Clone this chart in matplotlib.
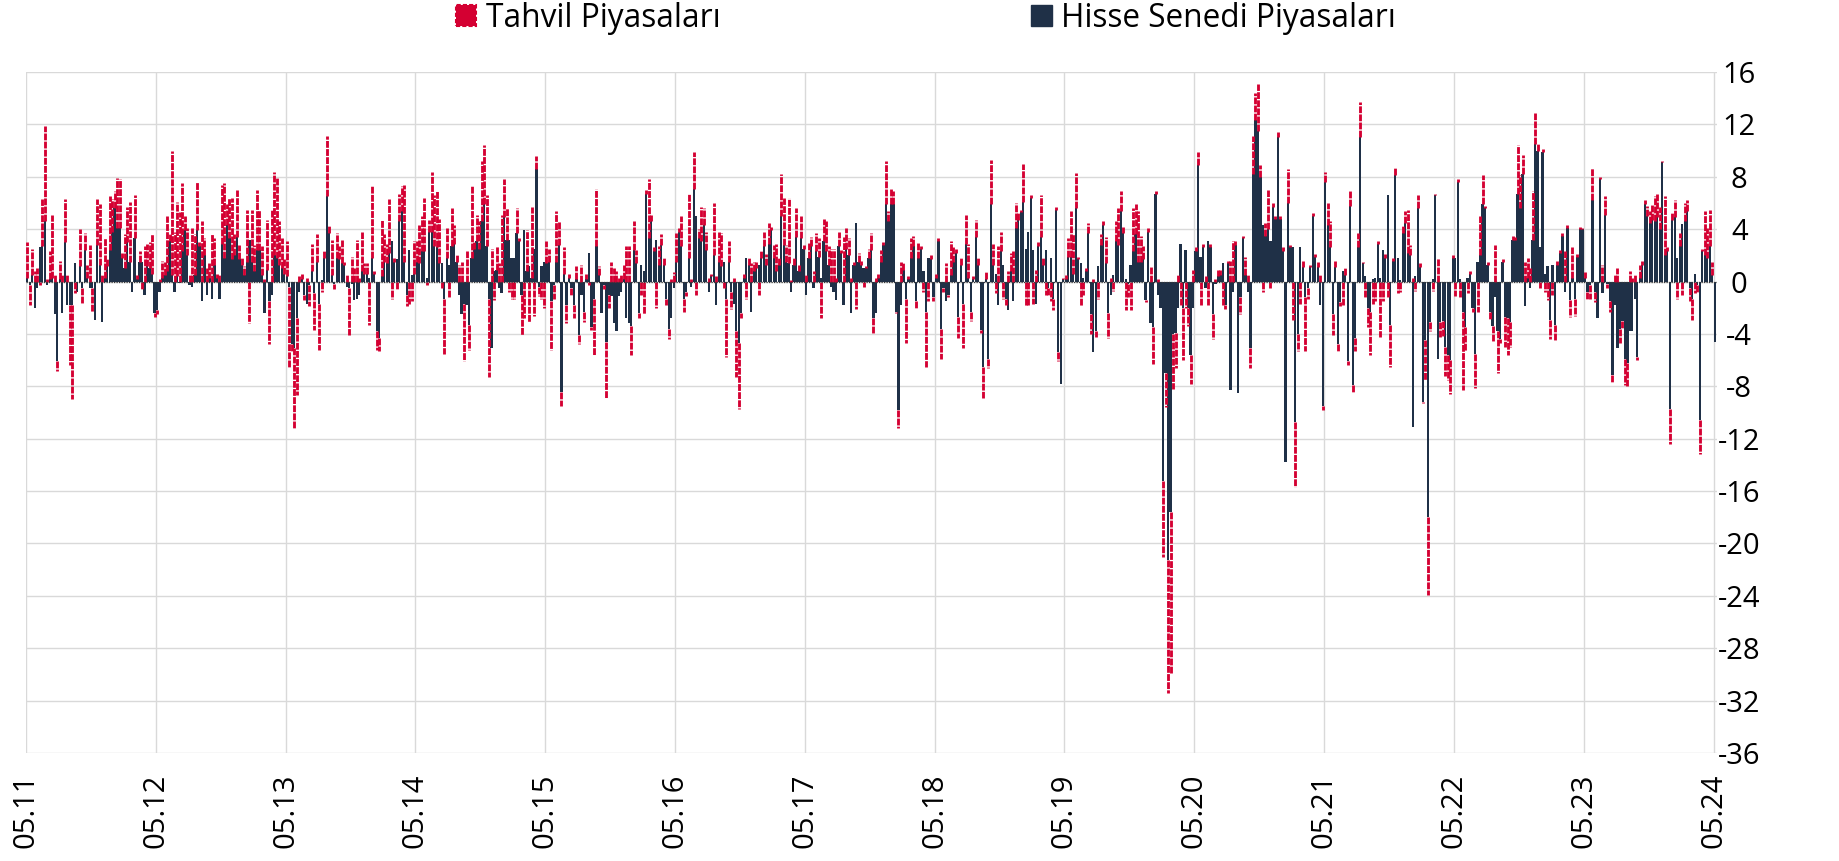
import numpy as np
import matplotlib
matplotlib.use("Agg")
import matplotlib.pyplot as plt
from matplotlib.patches import Patch

# ---------------- data (weekly flows, 05.2011 - 05.2024) ----------------
year_labels = ["05.11", "05.12", "05.13", "05.14", "05.15", "05.16", "05.17",
               "05.18", "05.19", "05.20", "05.21", "05.22", "05.23", "05.24"]

# Hisse Senedi Piyasaları (equity)
equity_flows = [
    # 2011-12
    0.3,-0.3,0.5,-2.0,-0.5,2.6,2.7,4.6,-0.3,0.2,0.3,-2.5,-6.1,0.2,-2.4,3.0,-1.8,-1.8,-1.8,1.4,-0.8,1.2,-0.5,2.4,0.3,
    -0.5,-0.5,-2.9,2.8,1.3,-3.1,0.3,1.2,2.4,3.8,5.6,4.1,4.1,1.8,1.0,3.0,1.5,-0.8,3.3,0.2,1.5,1.5,-1.0,1.2,1.0,0.6,-2.4,
    # 2012-13
    -2.2,-0.8,0.3,0.5,0.8,3.1,0.5,-0.8,0.4,-0.1,2.3,3.9,2.0,-0.3,-0.4,0.5,3.9,2.7,-1.5,2.0,-1.0,0.3,-1.3,1.3,0.3,
    -1.3,2.9,1.8,4.3,3.3,1.7,2.0,3.4,1.7,1.3,0.5,1.5,3.2,1.5,0.8,2.4,2.4,0.5,-2.4,0.9,-1.5,-1.0,2.0,1.8,1.3,1.0,0.6,
    # 2013-14
    0.4,-0.4,-4.8,-5.1,-2.8,-0.8,0.2,-1.0,-1.7,-0.3,0.8,-0.9,1.5,-1.7,0.1,1.8,6.5,3.7,0.5,-0.2,1.8,1.7,1.4,1.3,-0.4,
    -0.5,-0.2,-1.4,-1.3,-1.0,0.8,0.6,0.6,0.3,1.8,0.6,-3.8,-4.3,0.4,1.5,1.4,2.2,3.1,1.5,1.7,4.6,5.4,1.5,-1.0,2.4,0.5,0.6,
    # 2014-15
    1.5,1.4,2.3,2.3,0.3,3.8,3.8,2.7,2.6,1.4,1.4,-1.3,1.8,1.3,2.7,2.9,1.5,-1.0,-2.5,-1.7,-1.8,-3.3,1.8,2.5,3.1,
    2.5,4.6,5.9,2.7,-1.3,-5.1,0.8,0.9,-0.5,-0.9,4.9,3.2,3.2,1.8,1.8,3.7,3.1,-1.0,3.9,0.8,1.2,0.3,2.5,8.6,-0.4,1.2,1.5,
    # 2015-16
    1.4,1.5,-1.5,-0.3,1.5,2.8,-8.4,0.6,-1.8,0.3,-0.5,-1.8,0.2,-4.1,-1.0,-2.3,0.2,2.2,-3.5,-1.3,2.7,0.5,-2.4,-0.3,-4.6,
    -1.0,-1.1,-3.2,-3.8,-1.1,-0.8,0.2,-2.8,-3.2,-3.4,2.4,1.4,-2.4,1.3,0.8,6.7,3.3,4.6,2.3,3.2,1.3,2.8,1.3,-1.3,-3.6,-2.8,-0.5,
    # 2016-17
    1.5,3.8,2.7,-1.3,-0.8,1.8,-0.4,7.1,5.0,3.3,3.1,4.3,2.4,-0.8,0.4,2.0,-1.8,1.5,1.2,1.5,-1.3,1.5,-0.8,-1.7,-3.8,
    -4.7,-2.4,0.3,1.8,1.3,-2.3,0.8,1.0,1.3,1.8,2.7,1.3,2.9,3.9,1.8,0.8,1.3,5.0,2.8,1.5,1.4,-0.8,1.3,3.4,0.8,3.3,2.5,
    # 2017-18
    -1.0,1.8,2.7,-0.5,2.3,1.9,0.3,3.1,2.3,1.3,-0.4,-0.8,-1.4,2.7,2.2,-1.8,2.5,2.0,-2.4,1.3,4.5,1.5,1.3,1.0,1.0,
    1.8,2.4,-2.8,-2.4,0.3,1.5,2.8,5.9,4.6,5.9,5.9,-2.3,-9.8,-1.8,0.9,-1.3,0.2,1.8,2.7,-1.5,1.8,2.5,0.8,-2.3,1.8,1.7,-1.2,
    # 2018-19
    0.3,3.1,-3.6,-0.5,-1.5,-1.0,0.5,1.5,2.2,-2.7,1.3,-1.7,2.9,0.3,-2.3,0.2,3.4,1.3,-3.7,-6.5,0.2,-5.9,5.9,1.3,0.6,
    -1.8,2.3,1.3,-1.3,-2.2,0.8,-1.5,4.1,4.7,5.3,6.1,2.5,3.8,6.4,2.4,-1.7,2.7,3.4,1.3,2.4,-0.5,1.8,-1.3,5.5,-5.4,-7.8,0.2,
    # 2019-20
    0.2,1.9,1.9,0.6,5.6,1.7,1.4,0.3,0.8,3.7,-2.5,-5.4,-3.8,1.2,2.8,4.3,1.4,-2.4,-1.0,0.5,3.1,2.8,5.4,3.7,0.2,
    -0.2,1.3,2.3,3.6,1.5,1.5,1.7,-1.4,3.8,-3.2,-3.5,6.7,-1.0,-2.0,-15.2,-7.0,-21.3,-17.6,-4.0,-3.9,-2.0,2.9,-2.0,2.4,-2.0,-5.6,-2.0,
    # 2020-21
    2.3,8.9,1.9,2.6,-0.5,3.1,2.6,-2.5,-0.2,0.4,0.5,1.4,-1.8,1.4,-8.3,-0.8,2.8,-8.5,-1.2,3.3,0.5,-0.8,-5.1,8.2,12.3,
    11.5,8.0,4.3,3.5,4.0,3.1,5.7,4.8,11.0,4.8,2.3,-13.8,6.0,2.6,2.6,-10.7,-4.0,2.6,1.1,-1.2,-0.5,1.1,5.0,1.9,1.1,-1.8,-9.5,
    # 2021-22
    7.6,4.3,2.6,-2.5,1.1,-4.8,-1.6,0.8,0.5,-6.1,5.8,-7.9,-4.3,2.6,11.0,1.4,0.4,-2.0,-2.3,0.2,0.3,2.9,0.3,2.4,1.8,
    6.6,-3.3,1.6,8.1,1.8,0.1,3.7,4.5,2.2,2.0,-11.1,0.4,5.6,1.1,-9.2,-4.5,-18.0,-3.1,0.2,6.6,-5.9,-3.1,-3.0,-5.0,-5.6,-6.0,1.8,
    # 2022-23
    1.8,7.6,0.2,-2.3,-3.5,0.3,0.6,-2.0,-5.5,1.5,2.0,5.9,5.6,1.3,-2.3,-3.4,-1.2,-3.8,-4.4,1.5,-2.7,-2.8,-3.1,3.2,3.2,
    6.7,5.6,8.2,-1.9,0.3,-0.5,3.2,10.5,10.0,2.6,9.9,0.6,1.2,-2.9,1.3,-3.3,1.3,2.2,3.5,-0.8,4.1,-1.4,0.3,-1.3,1.9,4.0,4.0,
    # 2023-24
    0.3,-0.8,-0.3,6.2,-0.8,-2.8,7.8,-0.9,5.1,-0.2,-1.5,-7.1,-1.8,-5.1,-3.6,-3.0,-5.9,-6.2,-3.8,-3.8,-1.3,-5.8,0.3,1.3,5.9,
    5.0,4.5,4.7,4.6,4.9,4.0,9.1,2.0,2.3,-9.7,4.7,4.9,1.8,2.7,4.4,4.6,5.4,-0.5,-1.3,0.6,-0.3,-10.6,2.3,2.0,1.8,2.7,0.5,-4.6,
]

# Tahvil Piyasaları (bond)
bond_flows = [
    # 2011-12
    2.7,-1.5,2.0,0.8,1.0,-0.3,3.6,7.3,0.2,2.1,4.8,0.5,-0.7,1.4,0.5,3.3,0.6,-4.6,-7.2,-0.9,0.0,2.8,-1.2,1.3,1.0,
    2.8,-1.8,0.0,3.5,4.6,0.5,3.0,0.5,4.1,2.5,1.3,3.8,3.7,0.4,2.6,2.7,4.6,0.0,3.3,0.3,0.8,-0.6,2.7,1.7,2.0,3.0,-0.3,
    # 2012-13
    -0.3,0.2,1.3,1.0,4.2,0.5,9.5,3.8,5.7,5.3,5.2,1.1,2.1,0.5,4.1,3.1,3.7,0.3,4.6,1.3,1.0,1.2,3.6,2.0,0.3,
    0.5,4.5,5.7,1.6,3.1,4.7,1.6,3.6,1.1,0.5,0.7,4.0,-3.2,4.0,2.0,4.6,3.1,2.2,0.2,3.8,-3.3,5.5,6.4,6.1,3.3,2.3,1.2,
    # 2013-14
    2.7,-6.2,-0.5,-6.1,-5.9,0.4,0.4,-0.4,0.3,-1.6,2.1,-2.8,2.1,-3.5,-0.8,0.6,4.6,0.6,2.7,-0.4,1.9,1.0,1.8,0.2,0.6,
    -3.6,1.9,1.0,3.2,0.3,3.0,0.8,0.8,-3.3,5.5,0.2,-1.4,-1.0,4.3,2.1,1.5,4.1,-1.3,0.3,-0.6,2.1,1.9,5.9,-0.9,-1.7,-1.5,2.5,
    # 2014-15
    1.6,2.9,2.7,4.1,-0.3,0.9,4.6,3.9,4.3,3.4,-0.5,-4.2,2.3,-1.2,2.9,1.4,0.5,1.3,1.5,-4.4,2.3,-1.9,5.5,0.6,2.0,
    2.1,4.6,4.5,3.9,-6.0,2.5,-1.4,1.8,1.4,5.1,2.9,2.4,-0.8,-1.3,-1.3,1.9,0.2,-3.1,-2.8,3.1,-3.1,5.4,-2.6,1.0,-0.7,-1.3,-2.0,
    # 2015-16
    1.7,1.0,-3.7,-1.0,3.9,1.8,-1.1,2.0,-1.4,0.3,-0.5,-1.0,1.0,-0.7,1.3,-0.8,0.4,-0.3,-0.2,-4.3,4.4,0.7,0.0,-0.3,-4.3,
    -1.0,1.5,1.0,0.8,0.3,0.5,1.1,2.7,2.7,-2.2,2.2,1.0,-0.4,-1.0,-2.5,0.3,4.5,0.5,0.3,-2.0,1.4,0.8,0.6,-0.5,-0.8,0.2,0.7,
    # 2016-17
    2.2,0.3,2.3,-1.0,-0.3,4.9,0.2,2.8,-1.0,0.7,2.6,1.3,1.4,0.3,0.2,4.0,0.4,2.3,2.5,-0.5,-4.5,1.6,-1.3,0.3,-3.5,
    -5.0,-0.4,0.3,-1.3,0.5,1.4,0.7,0.5,-1.0,0.5,1.1,0.8,1.6,0.3,1.0,2.1,0.5,3.2,3.6,1.3,5.0,0.1,0.6,2.2,0.5,1.7,0.3,
    # 2017-18
    0.5,1.2,0.7,0.8,1.4,1.4,-2.8,1.7,2.3,1.4,2.5,2.5,0.3,1.1,0.2,3.4,1.6,1.3,0.3,0.2,-2.1,0.7,0.3,-0.4,0.2,
    0.7,1.3,-1.2,0.3,0.3,0.9,0.2,3.3,0.8,1.2,1.0,-0.1,-1.4,1.5,0.5,-3.4,0.2,1.5,0.8,-0.5,1.2,0.2,-0.8,-4.2,-1.5,0.3,-0.3,
    # 2018-19
    0.3,0.2,-2.3,-0.3,1.4,-0.2,2.6,1.2,0.3,-1.6,0.5,-3.4,2.2,2.6,-0.7,0.2,1.3,0.5,-0.2,-2.4,0.5,-0.7,3.4,1.6,-0.9,
    2.7,1.5,-1.3,-0.5,0.8,1.4,2.3,1.9,0.5,0.2,2.9,-1.9,-1.8,0.2,-1.7,0.9,0.3,3.2,0.5,-1.0,-0.6,-1.5,-0.9,0.2,-0.7,0.0,0.1,
    # 2019-20
    0.3,1.4,3.5,3.0,2.7,0.2,-1.9,-1.0,0.2,0.8,-1.5,0.2,-0.4,-1.3,0.8,0.3,2.0,-1.9,0.3,-0.7,1.5,2.8,1.5,0.5,-2.2,
    -1.0,-2.2,3.3,2.3,3.9,2.0,1.0,-0.2,0.3,1.2,-2.8,0.2,0.2,0.0,-5.8,-2.6,-10.1,-12.3,-4.2,-2.7,0.5,-1.8,-4.0,-2.0,-1.4,-2.2,0.9,
    # 2020-21
    0.3,1.0,-1.8,0.3,0.4,-1.8,0.3,-1.9,0.2,0.5,0.4,-1.8,-0.3,0.2,1.6,3.1,0.3,0.0,-1.3,0.2,1.4,0.5,-1.5,2.9,2.1,
    3.6,0.9,-0.8,1.0,3.0,-0.5,0.3,0.2,0.4,0.2,0.3,0.0,2.6,0.2,-2.9,-5.0,-1.3,-1.7,0.5,-4.1,-0.8,0.2,0.2,0.2,0.4,0.5,-0.3,
    # 2021-22
    0.8,1.7,2.0,-1.6,0.5,-0.5,-0.3,-1.8,0.6,-0.3,1.2,-0.6,-1.0,1.1,2.7,0.1,-1.2,-1.5,-3.3,-1.7,-1.5,0.2,-4.2,-1.5,0.3,
    -1.2,-3.2,0.2,0.6,-0.9,-0.8,0.6,0.9,3.3,0.8,0.3,-0.7,1.0,0.3,-0.1,-3.0,-5.9,-0.7,-0.7,0.1,1.8,-1.1,-1.2,-2.2,-1.9,-2.6,0.2,
    # 2022-23
    -1.1,0.2,-1.2,-6.0,-1.8,-0.9,0.2,-0.3,-2.6,-2.3,3.0,2.2,0.2,0.2,-0.6,-1.2,2.8,-3.2,-0.3,0.2,-2.3,-2.8,-1.9,0.3,0.2,
    3.7,2.5,1.5,1.5,1.5,1.0,3.7,2.4,0.5,-0.5,0.2,-0.8,-1.4,-1.5,-1.0,-1.2,0.3,0.2,0.2,2.3,0.2,-1.3,2.3,-1.3,0.2,0.2,0.1,
    # 2023-24
    0.4,-0.6,-1.0,2.5,-0.8,0.0,0.2,1.3,1.4,-0.3,-0.8,-0.6,0.5,1.0,-1.1,-0.6,-2.0,-1.8,0.8,0.3,0.5,-0.2,1.0,0.3,0.3,
    0.8,0.9,1.2,1.9,1.8,1.7,0.1,4.5,0.3,-2.7,0.5,1.3,-1.3,1.0,-1.0,1.4,0.8,-1.0,-1.6,-0.9,-0.6,-2.6,0.2,3.4,2.3,2.8,1.0,0.0,
]

series_names = ["Tahvil Piyasaları", "Hisse Senedi Piyasaları"]
weeks_per_year = 52

# ---------------- style ----------------
RED = "#d40032"
NAVY = "#1f3047"
GRID = "#d9d9d9"
plt.rcParams["font.family"] = ["Open Sans", "DejaVu Sans"]

e = np.array(equity_flows, dtype=float)
b = np.array(bond_flows, dtype=float)
n = min(len(e), len(b))
e, b = e[:n], b[:n]
x = np.arange(n) + 0.5
b_bottom = np.where(np.sign(b) == np.sign(e), e, 0.0)

fig = plt.figure(figsize=(18.39, 8.61), dpi=100)
ax = fig.add_axes([26 / 1839, 1 - 753 / 861, (1717 - 26) / 1839, (753 - 72) / 861])

# equity bars (stacked next to zero)
ax.bar(x, e, width=0.9, color=NAVY, linewidth=0, zorder=3)
# bond bars: dashed red columns stacked on top of the equity bars
ax.vlines(x, b_bottom, b_bottom + b, colors=RED, linewidth=2.05,
          linestyles=[(0, (2.4, 0.45))], zorder=4)

ax.axhline(0, color="#3a3a3a", lw=0.9, ls=(0, (1, 1)), zorder=5)

ax.set_ylim(-36, 16)
ax.set_xlim(0, n + 0.4)
ax.set_yticks(np.arange(-36, 17, 4))
ax.set_yticklabels([str(v) for v in range(-36, 17, 4)])
xt = np.arange(len(year_labels)) * weeks_per_year
ax.set_xticks(xt)
ax.set_xticklabels(year_labels, rotation=90)

ax.yaxis.tick_right()
ax.tick_params(axis="y", length=0, pad=16, labelsize=21, colors="#000000")
ax.tick_params(axis="x", length=0, pad=15, labelsize=21, colors="#000000")
for lab in ax.get_yticklabels():
    lab.set_horizontalalignment("center")

ax.grid(True, color=GRID, lw=1.0, zorder=0)
ax.set_axisbelow(True)
for s in ax.spines.values():
    s.set_visible(False)

handles = [Patch(facecolor=RED, edgecolor=RED, linestyle=(0, (2, 1)), linewidth=1.5),
           Patch(facecolor=NAVY, edgecolor=NAVY)]
fig.legend(handles, series_names, loc="upper center", bbox_to_anchor=(0.5035, 0.998),
           ncol=2, frameon=False, fontsize=22.8, handlelength=0.66, handleheight=0.66,
           handletextpad=0.3, columnspacing=9.8, borderaxespad=0, borderpad=0)

fig.savefig("out.png", dpi=100)
